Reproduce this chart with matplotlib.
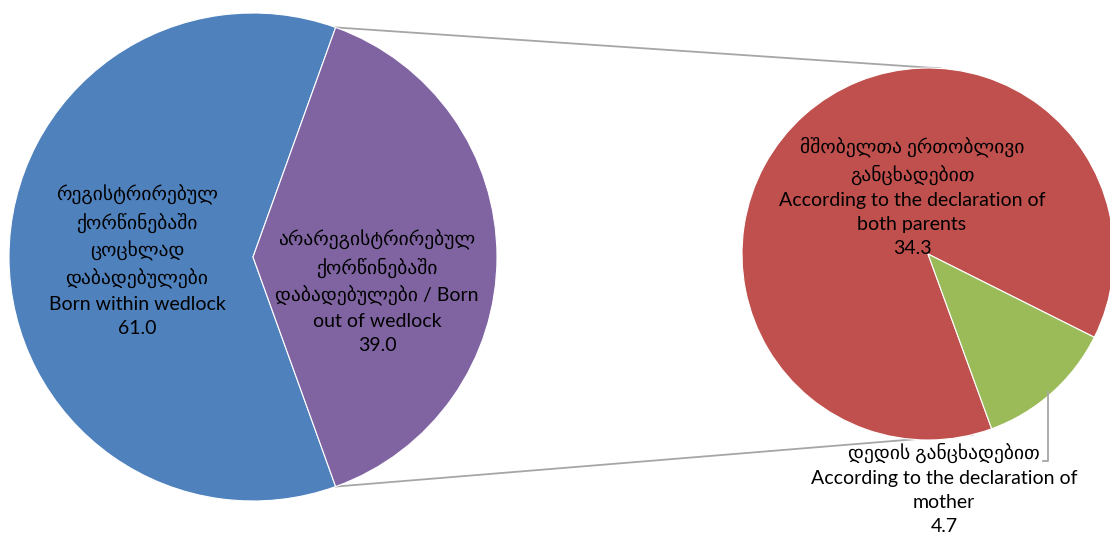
import numpy as np
import matplotlib
matplotlib.use("Agg")
import matplotlib.pyplot as plt

# main pie: born within / out of wedlock
main_values = [61.0, 39.0]
main_labels = [
    "რეგისტრირებულ\nქორწინებაში\nცოცხლად\nდაბადებულები\nBorn within wedlock",
    "არარეგისტრირებულ\nქორწინებაში\nდაბადებულები / Born\nout of wedlock",
]
main_colors = ["#4F81BD", "#8064A2"]

# secondary pie: breakdown of out of wedlock
sub_values = [34.3, 4.7]
sub_labels = [
    "მშობელთა ერთობლივი\nგანცხადებით\nAccording to the declaration of\nboth parents",
    "დედის განცხადებით\nAccording to the declaration of\nmother",
]
sub_colors = ["#C0504D", "#9BBB59"]

W, H = 1110, 540
fig = plt.figure(figsize=(W / 100, H / 100), dpi=100)
ax = fig.add_axes([0, 0, 1, 1])

fam = ["Lato", "DejaVu Sans"]
fs = 14

# pixel coords (y from top) -> data
def P(x, y):
    return x, H - y

c1 = P(253, 257); r1 = 244
c2 = P(928, 254); r2 = 186

start1 = main_values[1] / 2 * 3.6
ax.pie(main_values, colors=main_colors, startangle=start1, center=c1, radius=r1,
       wedgeprops=dict(edgecolor="white", linewidth=0.8), frame=True)
ax.pie(sub_values, colors=sub_colors, startangle=-26.6, center=c2, radius=r2,
       wedgeprops=dict(edgecolor="white", linewidth=0.8), frame=True)
ax.set_xlim(0, W)
ax.set_ylim(0, H)
ax.set_aspect("equal")
ax.axis("off")

# connector lines
def on_circle(c, r, deg):
    a = np.radians(deg)
    return c[0] + r * np.cos(a), c[1] + r * np.sin(a)

for a1, a2 in [(start1, 86), (-start1, -76)]:
    p1 = on_circle(c1, r1, a1)
    p2 = on_circle(c2, r2, a2)
    ax.plot([p1[0], p2[0]], [p1[1], p2[1]], color="#A6A6A6", lw=1.3, zorder=0)

# leader for small slice
lx, ly = zip(P(1048, 392), P(1048, 461), P(1043, 461))
ax.plot(lx, ly, color="#A6A6A6", lw=1.3)

txt = dict(ha="center", va="center", family=fam, fontsize=fs, color="black",
           linespacing=1.5)
ax.text(*P(137, 261), f"{main_labels[0]}\n{main_values[0]:.1f}", **txt)
ax.text(*P(377, 292), f"{main_labels[1]}\n{main_values[1]:.1f}", **txt)
ax.text(*P(912, 197), f"{sub_labels[0]}\n{sub_values[0]:.1f}", **txt)
ax.text(*P(944, 489), f"{sub_labels[1]}\n{sub_values[1]:.1f}", **txt)

fig.savefig("out.png", dpi=100)
